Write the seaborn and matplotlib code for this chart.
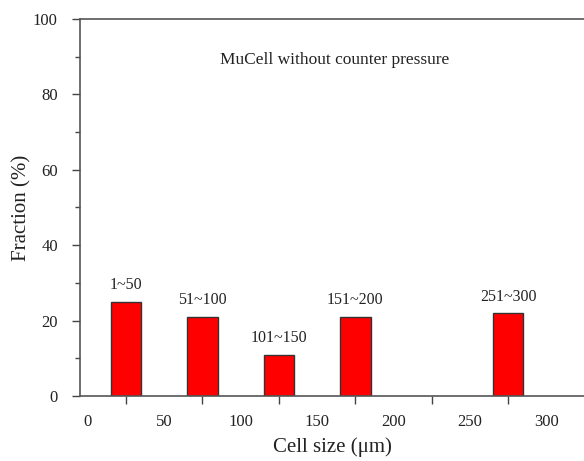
import matplotlib
matplotlib.use("Agg")
import matplotlib.pyplot as plt
import seaborn as sns
import pandas as pd

# Data
bin_centers = [25, 75, 125, 175, 275]
fractions = [25, 21, 11, 21, 22]
range_labels = ["1~50", "51~100", "101~150", "151~200", "251~300"]
x_tick_labels = [0, 50, 100, 150, 200, 250, 300]
x_tick_marks = [25, 75, 125, 175, 225, 275]
title_text = "MuCell without counter pressure"

sns.set_theme(style="white")
plt.rcParams['font.family'] = ['Liberation Serif', 'DejaVu Serif']
plt.rcParams['mathtext.fontset'] = 'stix'

df = pd.DataFrame({"size": bin_centers, "frac": fractions})

fig = plt.figure(figsize=(5.84, 4.61), dpi=100)
ax = fig.add_axes([80/584, 65/461, 1 - 80/584, (396-19)/461])

sns.barplot(data=df, x="size", y="frac", native_scale=True, width=0.4,
            color="#ff0000", edgecolor="#333333", linewidth=1.0,
            errorbar=None, saturation=1, ax=ax)

ax.bar_label(ax.containers[0], labels=range_labels, padding=6, fontsize=11.5,
             color="#222222")

ax.set_xlim(-5.1, 324.7)
ax.set_ylim(0, 100)

# x: labels at bin edges (no tick marks), tick marks at bin centers
ax.set_xticks(x_tick_labels)
ax.set_xticklabels([str(v) for v in x_tick_labels], fontsize=12, color="#222222")
ax.set_xticks(x_tick_marks, minor=True)
ax.tick_params(axis="x", which="major", length=0, pad=13)
ax.tick_params(axis="x", which="minor", length=6, width=1.0, color="#444444",
               direction="out", bottom=True)

# y
ax.set_yticks([0, 20, 40, 60, 80, 100])
ax.set_yticks([10, 30, 50, 70, 90], minor=True)
ax.tick_params(axis="y", which="major", length=6, width=1.0, color="#444444",
               direction="out", left=True, pad=10, labelsize=12, labelcolor="#222222")
ax.tick_params(axis="y", which="minor", length=3.5, width=1.0, color="#444444",
               direction="out", left=True)

for s in ["left", "bottom", "top"]:
    ax.spines[s].set_color("#555555")
    ax.spines[s].set_linewidth(1.2)
ax.spines["right"].set_visible(False)

ax.set_xlabel("Cell size (μm)", fontsize=15, color="#222222", labelpad=5)
ax.set_ylabel("Fraction (%)", fontsize=15, color="#222222", labelpad=1)

ax.text(161.8, 89.0, title_text, ha="center", va="center", fontsize=12.5,
        color="#222222")

fig.savefig("out.png", dpi=100)
